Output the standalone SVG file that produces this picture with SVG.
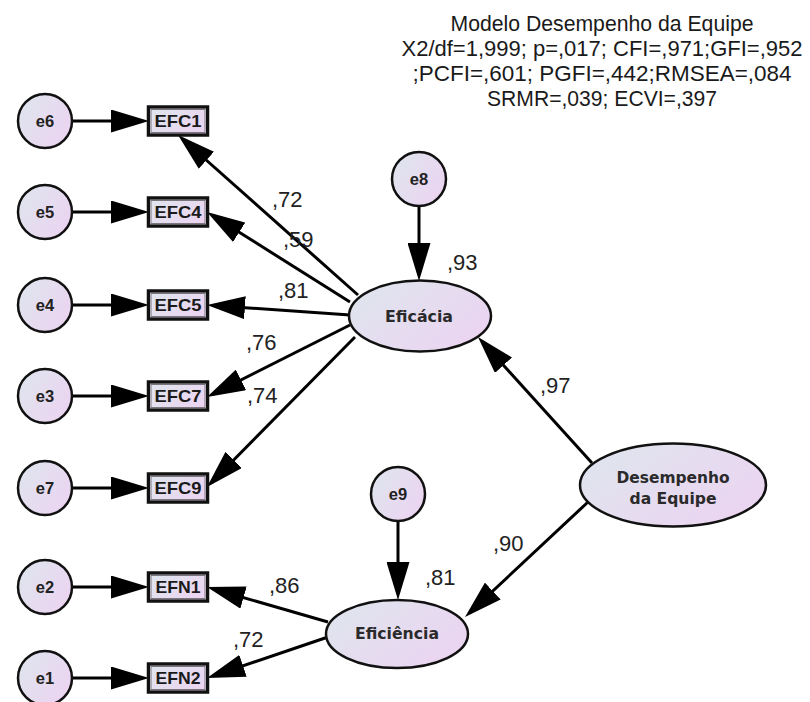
<svg xmlns="http://www.w3.org/2000/svg" width="810" height="702" viewBox="0 0 810 702">
<defs>
<linearGradient id="g" x1="0" y1="0.2" x2="1" y2="0.8">
<stop offset="0" stop-color="#dfe5ee"/>
<stop offset="1" stop-color="#ecd3f1"/>
</linearGradient>
<marker id="ah" viewBox="0 0 38 23" markerWidth="38" markerHeight="23" refX="32" refY="11.5" orient="auto" markerUnits="userSpaceOnUse">
<path d="M0,0 L38,11.5 L0,23 z" fill="#000"/>
</marker>
<style>
.c{fill:url(#g);stroke:#111;stroke-width:2.5}
.b{fill:url(#g);stroke:#111;stroke-width:4.5}
.bi{fill:none;stroke:#b0a8b4;stroke-width:1}
.et{font-family:"Liberation Sans",Arial,sans-serif;font-weight:bold;font-size:16.5px;fill:#222;text-anchor:middle}
.bt{font-family:"Liberation Sans",Arial,sans-serif;font-weight:bold;font-size:17px;fill:#1a1a1a;text-anchor:middle}
.lt{font-family:"DejaVu Sans",Verdana,sans-serif;font-weight:bold;font-size:15px;fill:#2a2a2a;text-anchor:middle}
.w{font-family:"Liberation Sans",Arial,sans-serif;font-size:22px;fill:#222}
.t{font-family:"Liberation Sans",Arial,sans-serif;font-size:22px;fill:#1a1a1a;text-anchor:middle}
.k{stroke:#000;stroke-width:3;fill:none;marker-end:url(#ah)}
</style>
</defs>
<g id="title">
<text class="t" x="602" y="31" textLength="303" lengthAdjust="spacingAndGlyphs">Modelo Desempenho da Equipe</text>
<text class="t" x="602" y="56" textLength="401" lengthAdjust="spacingAndGlyphs">X2/df=1,999; p=,017; CFI=,971;GFI=,952</text>
<text class="t" x="602" y="81" textLength="379" lengthAdjust="spacingAndGlyphs">;PCFI=,601; PGFI=,442;RMSEA=,084</text>
<text class="t" x="602" y="106" textLength="230" lengthAdjust="spacingAndGlyphs">SRMR=,039; ECVI=,397</text>
</g>
<g id="connectors">
<line class="k" x1="72" y1="121" x2="143" y2="121"/>
<line class="k" x1="72" y1="212" x2="143" y2="212"/>
<line class="k" x1="72" y1="305" x2="143" y2="305"/>
<line class="k" x1="72" y1="396" x2="143" y2="396"/>
<line class="k" x1="72" y1="488" x2="143" y2="488"/>
<line class="k" x1="72" y1="587" x2="143" y2="587"/>
<line class="k" x1="72" y1="678" x2="143" y2="678"/>
<line class="k" x1="358" y1="295" x2="182.5" y2="139"/>
<line class="k" x1="350" y1="302" x2="212.1" y2="215.2"/>
<line class="k" x1="350" y1="315" x2="213" y2="305.4"/>
<line class="k" x1="350" y1="325" x2="212.4" y2="394.3"/>
<line class="k" x1="355" y1="337" x2="211.2" y2="482.7"/>
<line class="k" x1="419" y1="206" x2="419" y2="275"/>
<line class="k" x1="398" y1="521" x2="398" y2="594"/>
<line class="k" x1="592" y1="463" x2="482" y2="341.5"/>
<line class="k" x1="588" y1="502" x2="469.4" y2="612.9"/>
<line class="k" x1="328" y1="622" x2="212.8" y2="588.7"/>
<line class="k" x1="328" y1="637" x2="212.7" y2="676.1"/>
</g>
<g id="labels">
<text class="w" x="272" y="207">,72</text>
<text class="w" x="283" y="247">,59</text>
<text class="w" x="278" y="298">,81</text>
<text class="w" x="246" y="350">,76</text>
<text class="w" x="247" y="403">,74</text>
<text class="w" x="447" y="270">,93</text>
<text class="w" x="540" y="393">,97</text>
<text class="w" x="493" y="551">,90</text>
<text class="w" x="425" y="585">,81</text>
<text class="w" x="269" y="593">,86</text>
<text class="w" x="233" y="647">,72</text>
</g>
<g id="e6"><circle class="c" cx="45" cy="121" r="27"/><text class="et" x="45" y="127">e6</text></g>
<g id="e5"><circle class="c" cx="45" cy="212" r="27"/><text class="et" x="45" y="218">e5</text></g>
<g id="e4"><circle class="c" cx="45" cy="305" r="27"/><text class="et" x="45" y="311">e4</text></g>
<g id="e3"><circle class="c" cx="45" cy="396" r="27"/><text class="et" x="45" y="402">e3</text></g>
<g id="e7"><circle class="c" cx="45" cy="488" r="27"/><text class="et" x="45" y="494">e7</text></g>
<g id="e2"><circle class="c" cx="45" cy="587" r="27"/><text class="et" x="45" y="593">e2</text></g>
<g id="e1"><circle class="c" cx="45" cy="678" r="27"/><text class="et" x="45" y="684">e1</text></g>
<g id="EFC1"><rect class="b" x="149" y="107.5" width="58" height="27"/><rect class="bi" x="150.5" y="109" width="55" height="24"/><text class="bt" x="178" y="127" textLength="47" lengthAdjust="spacingAndGlyphs">EFC1</text></g>
<g id="EFC4"><rect class="b" x="149" y="198.5" width="58" height="27"/><rect class="bi" x="150.5" y="200" width="55" height="24"/><text class="bt" x="178" y="218" textLength="47" lengthAdjust="spacingAndGlyphs">EFC4</text></g>
<g id="EFC5"><rect class="b" x="149" y="291.5" width="58" height="27"/><rect class="bi" x="150.5" y="293" width="55" height="24"/><text class="bt" x="178" y="311" textLength="47" lengthAdjust="spacingAndGlyphs">EFC5</text></g>
<g id="EFC7"><rect class="b" x="149" y="382.5" width="58" height="27"/><rect class="bi" x="150.5" y="384" width="55" height="24"/><text class="bt" x="178" y="402" textLength="47" lengthAdjust="spacingAndGlyphs">EFC7</text></g>
<g id="EFC9"><rect class="b" x="149" y="474.5" width="58" height="27"/><rect class="bi" x="150.5" y="476" width="55" height="24"/><text class="bt" x="178" y="494" textLength="47" lengthAdjust="spacingAndGlyphs">EFC9</text></g>
<g id="EFN1"><rect class="b" x="149" y="573.5" width="58" height="27"/><rect class="bi" x="150.5" y="575" width="55" height="24"/><text class="bt" x="178" y="593" textLength="45" lengthAdjust="spacingAndGlyphs">EFN1</text></g>
<g id="EFN2"><rect class="b" x="149" y="664.5" width="58" height="27"/><rect class="bi" x="150.5" y="666" width="55" height="24"/><text class="bt" x="178" y="684" textLength="45" lengthAdjust="spacingAndGlyphs">EFN2</text></g>
<g id="e8"><circle class="c" cx="419" cy="179" r="27"/><text class="et" x="419" y="185">e8</text></g>
<g id="e9"><circle class="c" cx="398" cy="494" r="27"/><text class="et" x="398" y="500">e9</text></g>
<g id="Eficacia"><ellipse class="c" cx="420" cy="316" rx="71" ry="35.5"/><text class="lt" x="419" y="322" textLength="68" lengthAdjust="spacingAndGlyphs">Eficácia</text></g>
<g id="Eficiencia"><ellipse class="c" cx="397" cy="634" rx="71" ry="34"/><text class="lt" x="397" y="639" textLength="84" lengthAdjust="spacingAndGlyphs">Eficiência</text></g>
<g id="Desempenho"><ellipse class="c" cx="673" cy="485" rx="93" ry="41.5"/><text class="lt" x="673" y="483" textLength="113" lengthAdjust="spacingAndGlyphs">Desempenho</text><text class="lt" x="673" y="504" textLength="87" lengthAdjust="spacingAndGlyphs">da Equipe</text></g>
</svg>
